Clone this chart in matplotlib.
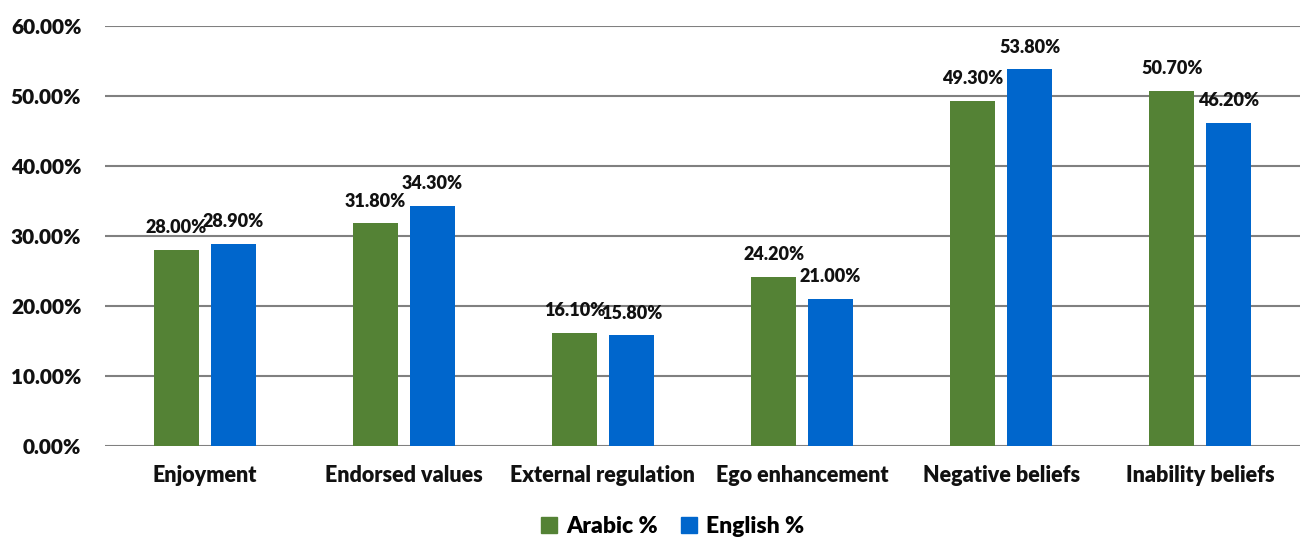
import numpy as np
import matplotlib.pyplot as plt
from matplotlib.patches import Patch

plt.rcParams['font.family'] = ['Lato', 'DejaVu Sans']
plt.rcParams['font.weight'] = 'heavy'

categories = ["Enjoyment", "Endorsed values", "External regulation",
              "Ego enhancement", "Negative beliefs", "Inability beliefs"]
arabic = [28.0, 31.8, 16.1, 24.2, 49.3, 50.7]
english = [28.9, 34.3, 15.8, 21.0, 53.8, 46.2]
yticks = [0, 10, 20, 30, 40, 50, 60]

green = "#548235"
blue = "#0066CC"

fig = plt.figure(figsize=(13.01, 5.42), dpi=100)
ax = fig.add_axes([105 / 1301, 1 - 446 / 542, 1195 / 1301, 420 / 542])

x = np.arange(len(categories))
w = 0.226
off = 0.143
b1 = ax.bar(x - off, arabic, w, color=green, zorder=3)
b2 = ax.bar(x + off, english, w, color=blue, zorder=3)

# value labels above each bar
for bars, vals in ((b1, arabic), (b2, english)):
    for b, v in zip(bars, vals):
        ax.annotate(f"{v:.2f}%", (b.get_x() + b.get_width() / 2, v),
                    xytext=(0, 10), textcoords="offset points",
                    ha="center", va="bottom", fontsize=13,
                    fontweight="heavy", color="#111111")

ax.set_xlim(-0.5, len(categories) - 0.5)
ax.set_ylim(0, 60)
ax.set_yticks(yticks)
ax.set_yticklabels([f"{t:.2f}%" for t in yticks], fontsize=15, fontweight="heavy")
ax.set_xticks(x)
ax.set_xticklabels(categories, fontsize=15.5, fontweight="heavy")
ax.tick_params(axis="both", length=0, colors="#111111")
ax.tick_params(axis="y", pad=17)
ax.tick_params(axis="x", pad=14)
ax.yaxis.grid(True, color="#808080", linewidth=1.5, zorder=0)
for s in ax.spines.values():
    s.set_visible(False)

handles = [Patch(color=green, label="Arabic %"), Patch(color=blue, label="English %")]
fig.legend(handles=handles, loc="lower center", bbox_to_anchor=(0.517, -0.028),
           ncol=2, frameon=False, prop={"size": 16.5, "weight": "heavy"},
           handlelength=0.7, handleheight=0.7, handletextpad=0.4, columnspacing=1.0)

fig.savefig("out.png", dpi=100)
